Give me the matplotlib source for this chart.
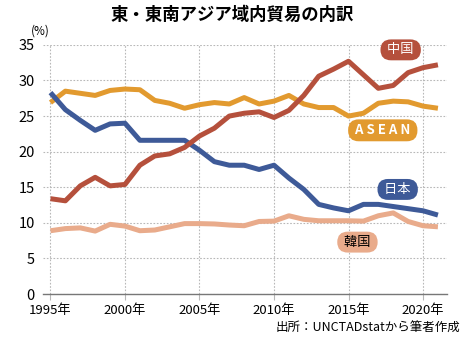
import matplotlib.pyplot as plt

plt.rcParams['font.family'] = ['Noto Sans CJK JP', 'DejaVu Sans']

years = list(range(1995, 2022))
china = [13.4, 13.1, 15.2, 16.4, 15.2, 15.4, 18.1, 19.4, 19.7, 20.6, 22.2, 23.3, 25.0,
         25.4, 25.6, 24.8, 25.8, 27.9, 30.6, 31.6, 32.7, 30.8, 28.9, 29.3, 31.1, 31.8, 32.2]
asean = [26.9, 28.5, 28.2, 27.9, 28.6, 28.8, 28.7, 27.2, 26.8, 26.1, 26.6, 26.9, 26.7,
         27.6, 26.7, 27.1, 27.9, 26.7, 26.2, 26.2, 25.0, 25.4, 26.8, 27.1, 27.0, 26.4, 26.1]
japan = [28.3, 25.9, 24.4, 23.0, 23.9, 24.0, 21.6, 21.6, 21.6, 21.6, 20.2, 18.6, 18.1,
         18.1, 17.5, 18.1, 16.3, 14.7, 12.6, 12.1, 11.7, 12.6, 12.6, 12.3, 12.0, 11.7, 11.1]
korea = [8.9, 9.2, 9.3, 8.85, 9.8, 9.55, 8.9, 9.0, 9.45, 9.9, 9.9, 9.85, 9.7,
         9.6, 10.2, 10.25, 11.0, 10.5, 10.3, 10.3, 10.3, 10.25, 11.0, 11.4, 10.2, 9.6, 9.45]

xticks = [1995, 2000, 2005, 2010, 2015, 2020]
yticks = [0, 5, 10, 15, 20, 25, 30, 35]

c_china = '#b5503c'
c_asean = '#e29a2f'
c_japan = '#3e5a98'
c_korea = '#e9ab8b'

fig = plt.figure(figsize=(4.65, 3.4), dpi=100)
ax = fig.add_axes([0.0925, 0.135, 0.8685, 0.733])

ax.plot(years, korea, color=c_korea, lw=3.6, solid_capstyle='butt', zorder=3)
ax.plot(years, asean, color=c_asean, lw=3.6, solid_capstyle='butt', zorder=4)
ax.plot(years, japan, color=c_japan, lw=3.6, solid_capstyle='butt', zorder=5)
ax.plot(years, china, color=c_china, lw=3.6, solid_capstyle='butt', zorder=6)

ax.set_xlim(1994.5, 2021.6)
ax.set_ylim(0, 35)
ax.set_xticks(xticks)
ax.set_xticklabels([f'{y}年' for y in xticks])
ax.set_yticks(yticks)
ax.grid(True, color='#b8b8b8', ls=(0, (1.5, 1.5)), lw=0.8)
for s in ['top', 'right', 'left']:
    ax.spines[s].set_visible(False)
ax.spines['bottom'].set_color('#777777')
ax.spines['bottom'].set_linewidth(1.0)
ax.tick_params(axis='x', length=4, color='#b8b8b8', labelsize=9.5, pad=3)
ax.tick_params(axis='y', length=0, labelsize=10.5, pad=6)

# series labels
def tag(x, y, text, face, fg, bold=False):
    ax.text(x, y, text, color=fg, fontsize=9.5, ha='center', va='center',
            fontweight='bold' if bold else 'normal', zorder=10,
            bbox=dict(boxstyle='round,pad=0.3,rounding_size=0.8', fc=face, ec='none'))

tag(2018.5, 34.3, ' 中国 ', c_china, 'white')
tag(2017.3, 23.0, ' A S E A N ', c_asean, 'white', bold=True)
tag(2018.3, 14.7, ' 日本 ', c_japan, 'white')
tag(2015.6, 7.3, ' 韓国 ', c_korea, 'black')

fig.text(0.5, 0.955, '東・東南アジア域内貿易の内訳', ha='center', va='center',
         fontsize=12.5, fontweight='bold')
fig.text(0.086, 0.91, '(%)', ha='center', va='center', fontsize=8.5)
fig.text(0.99, 0.035, '出所：UNCTADstatから筆者作成', ha='right', va='center', fontsize=9)

fig.savefig('out.png', dpi=100)
